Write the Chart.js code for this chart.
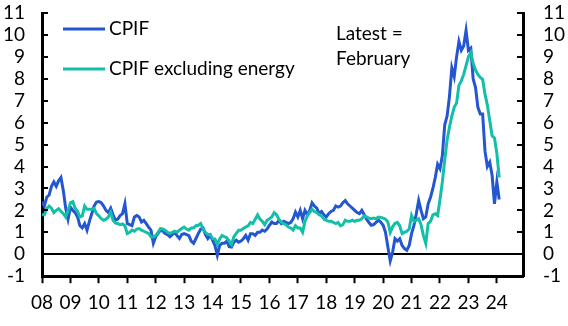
<!DOCTYPE html>
<html>
<head>
<meta charset="utf-8">
<script src="https://cdn.jsdelivr.net/npm/chart.js@4.4.1/dist/chart.umd.min.js"></script>
<style>
html, body { margin: 0; padding: 0; background: #fff; }
#wrap { width: 568px; height: 326px; }
</style>
</head>
<body>
<div id="wrap"><canvas id="mycanvas"></canvas></div>
<script>
// monthly, Jan 2008 .. Feb 2024, % y/y
var startYear = 2008;
var yearTicks = [2008, 2009, 2010, 2011, 2012, 2013, 2014, 2015, 2016, 2017, 2018, 2019, 2020, 2021, 2022, 2023, 2024];
var yTicks = [-1, 0, 1, 2, 3, 4, 5, 6, 7, 8, 9, 10, 11];
var seriesNames = ["CPIF", "CPIF excluding energy"];
var noteLines = ["Latest =", "February"];

var cpif = [
	2.4, 2.2, 2.6, 2.7, 3.1, 3.3, 3.1, 3.35, 3.5, 2.9, 2.1, 1.6,
	2.15, 2.0, 1.9, 1.7, 1.3, 1.2, 1.4, 1.1, 1.5, 1.85, 2.2, 2.38,
	2.4, 2.35, 2.2, 2.0, 1.9, 2.1, 1.8, 1.55, 1.6, 1.77, 1.85, 2.3,
	1.4, 1.35, 1.3, 1.7, 1.77, 1.7, 1.47, 1.55, 1.4, 1.24, 1.1, 0.5,
	0.8, 0.95, 1.1, 1.05, 0.95, 0.9, 0.8, 0.9, 1.0, 0.85, 0.72, 0.9,
	0.94, 0.9, 0.85, 0.6, 0.5, 0.72, 0.95, 1.15, 1.2, 0.9, 0.72, 0.86,
	0.64, 0.4, -0.05, 0.4, 0.5, 0.5, 0.6, 0.35, 0.33, 0.55, 0.64, 0.55,
	0.6, 0.71, 0.86, 0.64, 0.94, 0.94, 0.86, 1.0, 1.0, 1.1, 1.05, 1.15,
	1.32, 1.47, 1.4, 1.4, 1.55, 1.4, 1.5, 1.45, 1.4, 1.45, 1.62, 1.92,
	1.7, 2.0, 1.62, 2.0, 1.8, 2.0, 2.35, 2.2, 2.1, 1.85, 1.95, 1.8,
	1.7, 1.85, 1.95, 2.0, 2.2, 2.15, 2.2, 2.35, 2.45, 2.3, 2.2, 2.1,
	2.0, 1.9, 1.85, 2.0, 1.8, 1.6, 1.45, 1.32, 1.35, 1.45, 1.55, 1.47,
	1.32, 1.0, 0.33, -0.3, 0.1, 0.71, 0.6, 0.71, 0.4, 0.26, 0.18, 0.4,
	0.94, 1.32, 1.85, 2.45, 2.0, 1.62, 1.7, 2.3, 2.6, 3.0, 3.5, 4.1,
	3.9, 4.5, 5.9, 6.3, 7.2, 8.5, 8.1, 9.0, 9.7, 9.3, 9.5, 10.2,
	9.3, 9.4, 8.0, 7.6, 6.7, 6.4, 6.4, 4.7, 4.0, 4.2, 3.6, 2.3,
	3.3, 2.5
];

var cpifExEnergy = [
	1.8, 1.8, 2.08, 2.2, 2.1, 1.9, 2.0, 2.08, 1.96, 1.85, 1.7, 2.0,
	2.35, 2.4, 2.1, 1.96, 1.7, 1.75, 2.2, 2.05, 2.05, 2.05, 2.08, 1.85,
	1.75, 1.62, 1.55, 1.6, 1.7, 1.92, 1.55, 1.42, 1.4, 1.35, 1.38, 1.3,
	0.94, 1.0, 1.1, 1.05, 1.15, 1.17, 1.1, 1.05, 1.0, 0.95, 0.8, 0.79,
	0.85, 1.0, 1.17, 1.15, 1.1, 1.0, 0.95, 1.0, 1.05, 1.0, 1.1, 1.17,
	1.24, 1.15, 1.1, 1.2, 1.2, 1.3, 1.32, 1.4, 1.15, 1.0, 0.9, 0.9,
	0.71, 0.7, 0.45, 0.7, 0.86, 0.8, 0.75, 0.6, 0.45, 0.8, 0.95, 1.1,
	1.1, 1.17, 1.24, 1.3, 1.45, 1.4, 1.6, 1.8, 1.6, 1.5, 1.35, 1.55,
	1.62, 1.7, 1.9, 1.8, 1.6, 1.47, 1.4, 1.35, 1.24, 1.2, 1.1, 1.3,
	1.2, 1.2, 1.0, 1.5, 1.75, 1.9, 2.05, 1.95, 1.9, 1.8, 1.75, 1.6,
	1.55, 1.5, 1.5, 1.45, 1.4, 1.45, 1.3, 1.35, 1.55, 1.5, 1.5, 1.55,
	1.5, 1.55, 1.55, 1.62, 1.75, 1.7, 1.65, 1.62, 1.65, 1.62, 1.7, 1.68,
	1.65, 1.6, 1.47, 1.0, 1.25, 1.4, 1.45, 1.3, 0.94, 1.0, 1.05, 1.15,
	1.77, 1.5, 1.55, 1.62, 1.35, 0.85, 0.5, 1.4, 1.5, 1.8, 1.85, 1.77,
	2.5, 3.3, 4.3, 5.2, 5.8, 6.3, 6.7, 6.9, 7.7, 7.9, 8.2, 8.6,
	9.0, 9.2, 8.7, 8.4, 8.2, 8.06, 7.98, 7.3, 6.8, 6.1, 5.4, 5.3,
	4.6, 3.5
];

var blue = "#2356d0";
var teal = "#14bfa8";
var fontFam = "Lato, 'Open Sans', sans-serif";

function toPoints(arr) {
	var pts = [];
	for (var i in arr) {
		pts.push({ x: startYear + i / 12, y: arr[i] });
	}
	return pts;
}

// inward y ticks, legend and the "Latest" note
var annotations = {
	id: "annotations",
	afterDraw: function(chart) {
		var ctx = chart.ctx;
		var a = chart.chartArea;
		var ys = chart.scales.y;
		ctx.save();
		ctx.strokeStyle = "#000";
		ctx.lineWidth = 2;
		for (var t = 0; t < yTicks.length; t++) {
			var py = Math.round(ys.getPixelForValue(yTicks[t]));
			ctx.beginPath();
			ctx.moveTo(a.left, py);
			ctx.lineTo(a.left + 6, py);
			ctx.moveTo(a.right, py);
			ctx.lineTo(a.right - 6, py);
			ctx.stroke();
		}

		var colors = [blue, teal];
		var rows = [a.top + 16, a.top + 56];
		ctx.font = "19px " + fontFam;
		ctx.fillStyle = "#000";
		ctx.textBaseline = "middle";
		for (var i = 0; i < seriesNames.length; i++) {
			ctx.strokeStyle = colors[i];
			ctx.lineWidth = 3;
			ctx.beginPath();
			ctx.moveTo(a.left + 21, rows[i]);
			ctx.lineTo(a.left + 63, rows[i]);
			ctx.stroke();
			ctx.fillText(seriesNames[i], a.left + 67, rows[i]);
		}
		ctx.fillText(noteLines[0], a.left + 294, a.top + 21);
		ctx.fillText(noteLines[1], a.left + 294, a.top + 46);
		ctx.restore();
	}
};

function yFit(w) {
	return function(axis) {
		axis.width = w;
		axis.paddingTop = 13;
		axis.paddingBottom = 0;
	};
}

var ctx = document.getElementById("mycanvas");

var LineGraph = new Chart(ctx, {
	type: "line",
	data: {
		datasets: [
			{
				label: seriesNames[0],
				data: toPoints(cpif),
				borderColor: blue,
				borderWidth: 3,
				pointRadius: 0,
				tension: 0,
				fill: false,
				order: 2
			},
			{
				label: seriesNames[1],
				data: toPoints(cpifExEnergy),
				borderColor: teal,
				borderWidth: 3,
				pointRadius: 0,
				tension: 0,
				fill: false,
				order: 1
			}
		]
	},
	options: {
		responsive: true,
		maintainAspectRatio: false,
		animation: false,
		layout: { padding: { left: 3, right: 3, top: 2, bottom: 4 } },
		plugins: { legend: { display: false }, tooltip: { enabled: false } },
		scales: {
			x: {
				type: "linear",
				min: 2008,
				max: 2024.92,
				afterBuildTicks: function(axis) {
					axis.ticks = yearTicks.map(function(v) { return { value: v }; });
				},
				ticks: {
					autoSkip: false,
					maxRotation: 0,
					padding: 8,
					color: "#000",
					font: { family: fontFam, size: 19 },
					callback: function(v) { return String(v).slice(2); }
				},
				grid: { drawOnChartArea: false, tickColor: "#000", tickWidth: 2, tickLength: 7 },
				border: { color: "#000", width: 3 }
			},
			y: {
				position: "left",
				min: -1,
				max: 11,
				afterBuildTicks: function(axis) {
					axis.ticks = yTicks.map(function(v) { return { value: v }; });
				},
				afterFit: yFit(39),
				ticks: { autoSkip: false, padding: 17, color: "#000", font: { family: fontFam, size: 19 } },
				grid: {
					drawTicks: false,
					color: function(c) { return c.tick && c.tick.value === 0 ? "#000" : "rgba(0,0,0,0)"; },
					lineWidth: function(c) { return c.tick && c.tick.value === 0 ? 2 : 0; }
				},
				border: { color: "#000", width: 3 }
			},
			y2: {
				position: "right",
				min: -1,
				max: 11,
				afterBuildTicks: function(axis) {
					axis.ticks = yTicks.map(function(v) { return { value: v }; });
				},
				afterFit: yFit(42),
				ticks: { autoSkip: false, padding: 20, color: "#000", font: { family: fontFam, size: 19 } },
				grid: { drawOnChartArea: false, drawTicks: false },
				border: { color: "#000", width: 3 }
			}
		}
	},
	plugins: [annotations]
});
</script>
</body>
</html>
